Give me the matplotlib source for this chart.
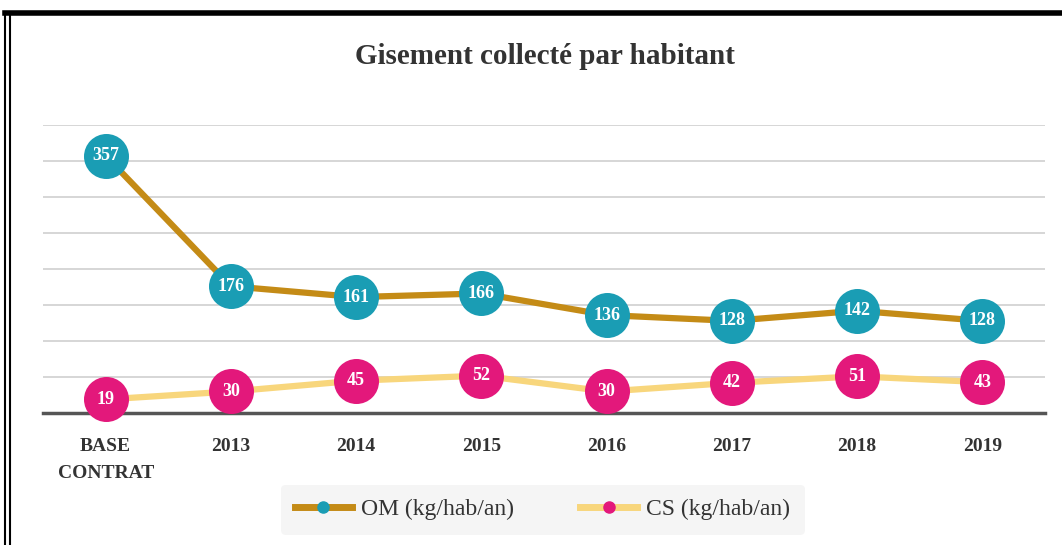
import matplotlib.pyplot as plt
from matplotlib.lines import Line2D

plt.rcParams['font.family'] = ['Liberation Serif', 'DejaVu Serif']

categories = ["BASE\nCONTRAT", "2013", "2014", "2015", "2016", "2017", "2018", "2019"]
om = [357, 176, 161, 166, 136, 128, 142, 128]
cs = [19, 30, 45, 52, 30, 42, 51, 43]

teal = "#1a9db4"
pink = "#e3187b"
gold = "#c48b16"
light = "#f8d67c"

fig = plt.figure(figsize=(10.62, 5.45), dpi=100)
ax = fig.add_axes([0.0405, 0.242, 0.9435, 0.529])

x = list(range(len(categories)))

ax.plot(x, om, color=gold, lw=4.5, zorder=3, solid_capstyle="round")
ax.plot(x, cs, color=light, lw=4.5, zorder=3, solid_capstyle="round")
ax.scatter(x, om, s=1050, color=teal, zorder=4, clip_on=False, linewidths=0)
ax.scatter(x, cs, s=1050, color=pink, zorder=4, clip_on=False, linewidths=0)
for xi, v in zip(x, om):
    ax.text(xi, v, str(v), ha="center", va="center", color="white",
            fontsize=13, fontweight="bold", zorder=5)
for xi, v in zip(x, cs):
    ax.text(xi, v, str(v), ha="center", va="center", color="white",
            fontsize=13, fontweight="bold", zorder=5)

ax.set_xlim(-0.5, 7.5)
ax.set_ylim(0, 400)
ax.set_yticks(range(50, 401, 50))
ax.yaxis.grid(True, color="#d0d0d0", lw=1.2)
ax.set_axisbelow(True)
ax.tick_params(axis="y", left=False, labelleft=False)
ax.tick_params(axis="x", length=0, pad=18)
ax.set_xticks(x)
ax.set_xticklabels(categories, fontsize=14, fontweight="bold", color="#333333",
                   linespacing=1.75)
for s in ["top", "right", "left"]:
    ax.spines[s].set_visible(False)
ax.spines["bottom"].set_color("#555555")
ax.spines["bottom"].set_linewidth(2.5)

fig.text(0.513, 0.897, "Gisement collecté par habitant", ha="center", va="center",
         fontsize=21, fontweight="bold", color="#333333")

handles = [
    Line2D([0], [0], color=gold, lw=5, marker="o", markersize=8,
           markerfacecolor=teal, markeredgecolor=teal),
    Line2D([0], [0], color=light, lw=5, marker="o", markersize=8,
           markerfacecolor=pink, markeredgecolor=pink),
]
leg = fig.legend(handles, ["OM (kg/hab/an)", "CS (kg/hab/an)"], loc="center",
                 bbox_to_anchor=(0.511, 0.065), ncol=2, frameon=True,
                 fontsize=17, handlelength=2.4, columnspacing=2.8,
                 borderpad=0.6, handletextpad=0.4, borderaxespad=0)
leg.get_frame().set_facecolor("#f3f3f3")
leg.get_frame().set_edgecolor("none")
for t in leg.get_texts():
    t.set_color("#333333")

# outer frame
fig.add_artist(Line2D([0.005, 1.0], [0.976, 0.976], color="black", lw=4,
                      transform=fig.transFigure))
fig.add_artist(Line2D([0.005, 0.005], [0.0, 0.978], color="black", lw=1.5,
                      transform=fig.transFigure))
fig.add_artist(Line2D([0.009, 0.009], [0.0, 0.972], color="black", lw=1.5,
                      transform=fig.transFigure))

fig.savefig("out.png", dpi=100)
